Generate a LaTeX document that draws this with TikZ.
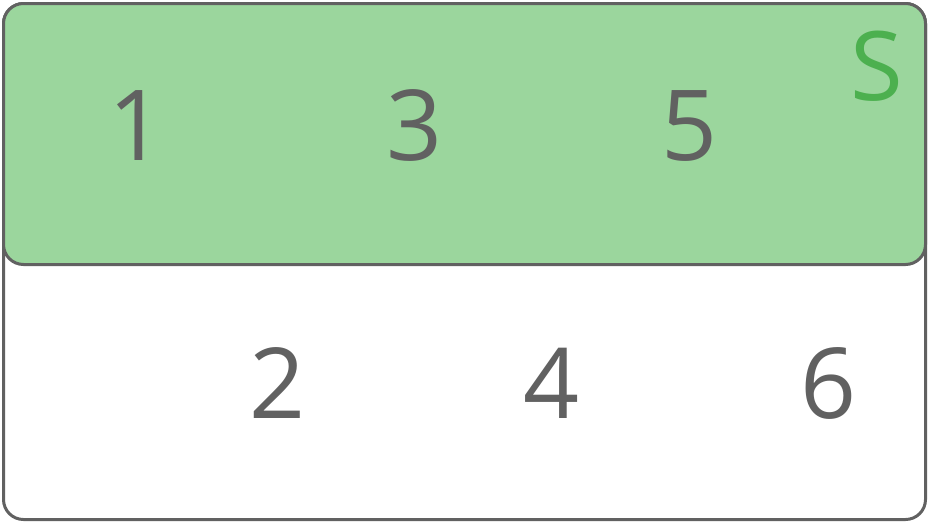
\documentclass[tikz,border=0pt]{standalone}
\usepackage{fontspec}
\setmainfont{Open Sans}
\definecolor{edge}{HTML}{616161}
\definecolor{greenfill}{HTML}{9BD69D}
\definecolor{sgreen}{HTML}{4CB04F}
\begin{document}
\begin{tikzpicture}[x=1pt,y=-1pt,
  box/.style={draw=edge,line width=3pt,rounded corners=20pt},
  num/.style={anchor=base,text=edge,font=\fontsize{98}{100}\selectfont,inner sep=0pt},
  lab/.style={anchor=base,text=sgreen,font=\fontsize{96}{100}\selectfont,inner sep=0pt}]
\useasboundingbox (0,0) rectangle (929,523);
\path[box,fill=white] (3.5,3.5) rectangle (925.5,519.5);
\path[box,fill=greenfill] (3.5,3.5) rectangle (925.5,264.5);
\node[num] (n1) at (137,160) {1};
\node[num] (n3) at (415,160) {3};
\node[num] (n5) at (690,160) {5};
\node[num] (n2) at (278,418) {2};
\node[num] (n4) at (552,418) {4};
\node[num] (n6) at (829,418) {6};
\node[lab] (s) at (877,100) {S};
\end{tikzpicture}
\end{document}
